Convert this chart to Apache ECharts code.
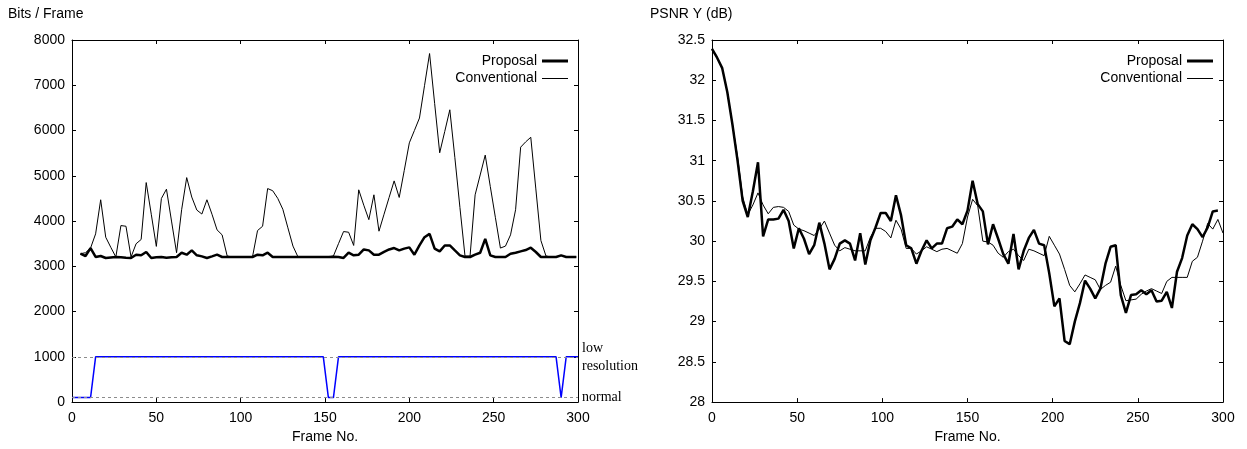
<!DOCTYPE html>
<html>
<head>
<meta charset="utf-8">
<script src="https://cdn.jsdelivr.net/npm/echarts@6/dist/echarts.min.js"></script>
<style>
html,body{margin:0;padding:0;background:#fff;}
#chart{width:1247px;height:449px;}
</style>
</head>
<body>
<div id="chart"></div>
<script>
// ---- data ----
const xTicks = [0, 50, 100, 150, 200, 250, 300];
const bitsTicks = [0, 1000, 2000, 3000, 4000, 5000, 6000, 7000, 8000];
const psnrTicks = [28, 28.5, 29, 29.5, 30, 30.5, 31, 31.5, 32, 32.5];

// bits/frame sampled every 3 frames starting at frame 5
const bitsStart = 5, bitsStep = 3;
const bitsProposal = [
  3278,3228,3403,3206,3228,3184,3195,3206,3200,3190,
  3184,3257,3243,3316,3184,3200,3206,3190,3200,3206,
  3300,3257,3352,3243,3220,3184,3220,3257,3206,3206,
  3206,3206,3206,3206,3206,3257,3243,3300,3206,3206,
  3206,3206,3206,3206,3206,3206,3206,3206,3206,3206,
  3210,3206,3184,3300,3243,3257,3373,3352,3257,3257,
  3320,3373,3403,3352,3390,3418,3257,3461,3643,3717,
  3389,3330,3461,3461,3350,3243,3206,3206,3257,3300,
  3607,3243,3206,3206,3206,3278,3300,3330,3360,3411,
  3316,3206,3206,3206,3206,3243,3206,3206,3206
];
const bitsConventional = [
  3278,3300,3403,3717,4470,3643,3420,3206,3900,3885,
  3206,3498,3593,4850,4150,3440,4499,4704,4000,3300,
  4250,4960,4530,4243,4155,4470,4150,3805,3695,3228,
  3206,3206,3206,3206,3206,3790,3885,4718,4670,4500,
  4260,3850,3447,3206,3206,3206,3206,3206,3206,3206,
  3228,3500,3768,3753,3461,4690,4350,4031,4580,3776,
  4150,4520,4887,4521,5120,5728,6000,6276,6990,7701,
  6600,5508,5980,6458,5400,4300,3228,3228,4579,5018,
  5457,4763,4083,3403,3447,3695,4250,5632,5750,5851,
  4710,3570,3228,3206,3206,3240,3206,3206,3206
];
// resolution mode indicator (normal / low resolution)
const resFrames = [0, 11, 14, 149, 152, 155, 158, 287, 290, 293, 300];
const resLevels = [100, 100, 1000, 1000, 100, 100, 1000, 1000, 100, 1000, 1000];
const lowLevel = 1000, normalLevel = 100;

// PSNR sampled every 3 frames starting at frame 0
const psnrStart = 0, psnrStep = 3;
const psnrProposal = [
  32.39,32.28,32.15,31.85,31.45,31.00,30.50,30.30,30.62,30.98,
  30.06,30.27,30.27,30.28,30.39,30.25,29.91,30.16,30.03,29.84,
  29.95,30.23,29.97,29.65,29.78,29.97,30.01,29.97,29.76,30.10,
  29.71,30.01,30.17,30.35,30.35,30.25,30.57,30.32,29.95,29.91,
  29.72,29.88,30.01,29.91,29.97,29.97,30.16,30.18,30.27,30.21,
  30.38,30.75,30.46,30.37,29.96,30.21,30.03,29.84,29.72,30.09,
  29.65,29.88,30.04,30.14,29.97,29.95,29.60,29.19,29.29,28.76,
  28.72,29.00,29.23,29.51,29.41,29.29,29.41,29.72,29.93,29.95,
  29.33,29.11,29.33,29.34,29.39,29.34,29.39,29.25,29.26,29.37,
  29.17,29.62,29.79,30.07,30.21,30.15,30.05,30.17,30.37,30.38
];
const psnrConventional = [
  32.39,32.28,32.15,31.85,31.45,31.05,30.55,30.33,30.45,30.60,
  30.45,30.34,30.42,30.43,30.42,30.37,30.20,30.15,30.13,30.10,
  30.07,30.15,30.25,30.10,29.95,29.88,29.92,29.90,29.88,29.88,
  29.88,30.05,30.16,30.16,30.12,30.04,30.26,30.15,29.91,29.91,
  29.84,29.88,29.93,29.90,29.87,29.90,29.91,29.88,29.85,29.97,
  30.30,30.52,30.44,30.00,29.99,29.95,29.85,29.80,29.87,29.90,
  29.82,29.76,29.90,29.88,29.85,29.82,30.06,29.95,29.84,29.65,
  29.45,29.37,29.47,29.58,29.55,29.52,29.40,29.45,29.49,29.69,
  29.45,29.26,29.27,29.28,29.34,29.38,29.41,29.38,29.35,29.50,
  29.55,29.55,29.55,29.55,29.75,29.80,30.00,30.22,30.15,30.27,30.10
];

// ---- build ----
function pairs(start, step, vals) { return vals.map((v, i) => [start + i * step, v]); }
const SANS = '"Liberation Sans", Arial, Helvetica, sans-serif';
const SERIF = '"Liberation Serif", "Times New Roman", serif';
const black = '#000';

function xAx(grid, pos, showLabel) {
  return {
    gridIndex: grid, type: 'value', position: pos,
    min: xTicks[0], max: xTicks[xTicks.length - 1], interval: xTicks[1] - xTicks[0],
    name: showLabel ? 'Frame No.' : '', nameLocation: 'middle', nameGap: 26,
    nameTextStyle: { color: black, fontSize: 14, fontFamily: SANS },
    axisLine: { onZero: false, lineStyle: { color: black, width: 1 } },
    axisTick: { inside: true, length: 4, lineStyle: { color: black } },
    axisLabel: { show: showLabel, color: black, fontSize: 14, fontFamily: SANS, margin: 9,
                 formatter: v => String(v) },
    splitLine: { show: false }
  };
}
function yAx(grid, pos, ticks, showLabel) {
  return {
    gridIndex: grid, type: 'value', position: pos,
    min: ticks[0], max: ticks[ticks.length - 1], interval: ticks[1] - ticks[0],
    axisLine: { show: true, onZero: false, lineStyle: { color: black, width: 1 } },
    axisTick: { show: true, inside: true, length: 4, lineStyle: { color: black } },
    axisLabel: { show: showLabel, color: black, fontSize: 14, fontFamily: SANS, margin: 7,
                 formatter: v => String(v) },
    splitLine: { show: false }
  };
}
function legendItem(name, right, top, h) {
  return {
    data: [name], right: right, top: top, orient: 'horizontal', align: 'right',
    icon: 'rect', itemWidth: 26, itemHeight: h, padding: 0, selectedMode: false,
    textStyle: { color: black, fontSize: 14, fontFamily: SANS }
  };
}

const chart = echarts.init(document.getElementById('chart'), null, { renderer: 'canvas' });
chart.setOption({
  animation: false,
  backgroundColor: '#fff',
  title: [
    { text: 'Bits / Frame', left: 8, top: 7, padding: 0,
      textStyle: { fontSize: 14, fontWeight: 'normal', color: black, fontFamily: SANS } },
    { text: 'PSNR Y (dB)', left: 650, top: 7, padding: 0,
      textStyle: { fontSize: 14, fontWeight: 'normal', color: black, fontFamily: SANS } }
  ],
  legend: [
    legendItem('Proposal', 679, 54, 3),
    legendItem('Conventional', 679, 71.5, 1),
    legendItem('Proposal', 34, 54, 3),
    legendItem('Conventional', 34, 71.5, 1)
  ],
  grid: [
    { left: 72, right: 669, top: 40, bottom: 44 },
    { left: 712, right: 24, top: 40, bottom: 44 }
  ],
  xAxis: [xAx(0, 'bottom', true), xAx(0, 'top', false), xAx(1, 'bottom', true), xAx(1, 'top', false)],
  yAxis: [yAx(0, 'left', bitsTicks, true), yAx(0, 'right', bitsTicks, false),
          yAx(1, 'left', psnrTicks, true), yAx(1, 'right', psnrTicks, false)],
  series: [
    { name: 'Resolution', type: 'line', xAxisIndex: 0, yAxisIndex: 0, symbol: 'none',
      data: resFrames.map((f, i) => [f, resLevels[i]]),
      lineStyle: { color: '#0000ff', width: 1.5 }, itemStyle: { color: '#0000ff' }, z: 3,
      markLine: {
        silent: true, symbol: 'none',
        lineStyle: { color: '#8c8c8c', type: [3, 3], width: 1 },
        label: { position: 'end', distance: 4, color: black, fontFamily: SERIF, fontSize: 14, lineHeight: 18 },
        data: [
          { yAxis: lowLevel, label: { formatter: 'low\nresolution', padding: [0, 0, 8, 0] } },
          { yAxis: normalLevel, label: { formatter: 'normal' } }
        ]
      }
    },
    { name: 'Proposal', type: 'line', xAxisIndex: 0, yAxisIndex: 0, symbol: 'none',
      data: pairs(bitsStart, bitsStep, bitsProposal),
      lineStyle: { color: black, width: 2.5 }, itemStyle: { color: black } },
    { name: 'Conventional', type: 'line', xAxisIndex: 0, yAxisIndex: 0, symbol: 'none',
      data: pairs(bitsStart, bitsStep, bitsConventional),
      lineStyle: { color: black, width: 1 }, itemStyle: { color: black } },
    { name: 'Proposal', type: 'line', xAxisIndex: 2, yAxisIndex: 2, symbol: 'none',
      data: pairs(psnrStart, psnrStep, psnrProposal),
      lineStyle: { color: black, width: 2.5 }, itemStyle: { color: black } },
    { name: 'Conventional', type: 'line', xAxisIndex: 2, yAxisIndex: 2, symbol: 'none',
      data: pairs(psnrStart, psnrStep, psnrConventional),
      lineStyle: { color: black, width: 1 }, itemStyle: { color: black } }
  ]
});
</script>
</body>
</html>
